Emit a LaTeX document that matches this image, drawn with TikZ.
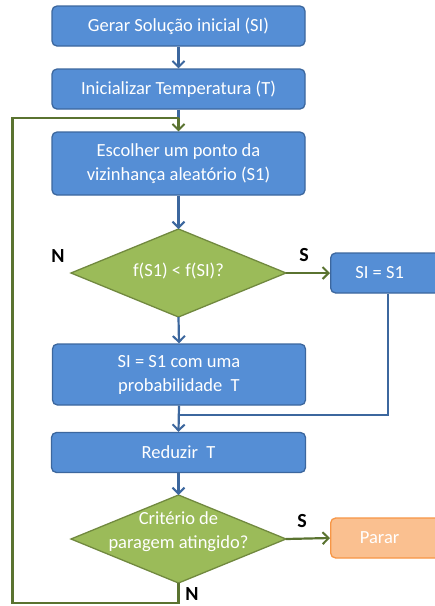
\documentclass[tikz,border=0pt]{standalone}
\usepackage{fontspec}
\setmainfont{Carlito}
\usetikzlibrary{arrows.meta}
\definecolor{bfill}{HTML}{558ED5}
\definecolor{bdraw}{HTML}{3C679E}
\definecolor{gfill}{HTML}{9BBB59}
\definecolor{gdraw}{HTML}{71893F}
\definecolor{garrow}{HTML}{5A7330}
\definecolor{ofill}{HTML}{FAC090}
\definecolor{odraw}{HTML}{F79646}
\tikzset{
  x=1pt,y=-1pt,
  txt/.style={text=white,font=\fontsize{18.5}{24}\selectfont,align=center},
  procbox/.style={draw=bdraw,fill=bfill,line width=1.3pt,rounded corners=5pt,txt,inner sep=0pt},
  decbox/.style={draw=gdraw,fill=gfill,line width=1.3pt},
  stopbox/.style={draw=odraw,fill=ofill,line width=1.3pt,rounded corners=5pt,txt,inner sep=0pt},
  barrow/.style={draw=bdraw,line width=2.2pt,-{Straight Barb[length=6pt,width=12pt,line width=2pt]}},
  bline/.style={draw=bdraw,line width=2.2pt},
  garr/.style={draw=garrow,line width=2.2pt,-{Straight Barb[length=6pt,width=12pt,line width=2pt]}},
  gline/.style={draw=garrow,line width=2.2pt},
  lbl/.style={font=\fontsize{20}{22}\selectfont\bfseries,text=black}
}
\begin{document}
\begin{tikzpicture}
\useasboundingbox[fill=white] (0,0) rectangle (435,606);
% boxes
\node[procbox,minimum width=253pt,minimum height=40pt] (b1) at (178.5,26) {Gerar Solução inicial (SI)};
\node[procbox,minimum width=253pt,minimum height=40pt] (b2) at (178.5,89) {Inicializar Temperatura (T)};
\node[procbox,minimum width=253pt,minimum height=63pt] (b3) at (178.5,163.5) {Escolher um ponto da\\vizinhança aleatório (S1)};
\path[decbox] (178.5,229) -- (286,273) -- (178.5,317) -- (71,273) -- cycle;
\node[txt] (d1) at (178.5,271) {f(S1) < f(SI)?};
\coordinate (d1t) at (178.5,229);
\coordinate (d1r) at (286,273);
\coordinate (d1b) at (178.5,317);
\node[procbox,minimum width=110pt,minimum height=40pt,anchor=west] (b6) at (330,273) {\hspace*{-6pt}SI = S1\hspace*{6pt}};
\node[procbox,minimum width=253pt,minimum height=61pt] (b4) at (179,374.5) {SI = S1 com uma\\probabilidade\ \ T};
\node[procbox,minimum width=254pt,minimum height=40pt] (b5) at (178.5,452.5) {Reduzir\ \ T};
\path[decbox] (178.5,495) -- (286,539) -- (178.5,583) -- (71,539) -- cycle;
\node[txt] (d2) at (178.5,532) {Critério de\\paragem atingido?};
\coordinate (d2t) at (178.5,495);
\coordinate (d2r) at (286,539);
\coordinate (d2b) at (178.5,583);
\node[stopbox,minimum width=110pt,minimum height=40pt,anchor=west] (b7) at (330,538) {\hspace*{-6pt}Parar\hspace*{6pt}};
% connectors
\draw[barrow] (b1.south) -- (b2.north);
\draw[bline] (b2.south) -- (178.5,118);
\draw[barrow] (b3.south) -- (d1t);
\draw[garr] (d1r) -- (b6.west);
\draw[barrow] (d1b) -- (b4.north);
\coordinate (m1) at (178.5,415);
\draw[bline] (b6.south -| 388,0) -- (388,415) -- (m1);
\draw[barrow] (b4.south) -- (b5.north);
\draw[barrow] (b5.south) -- (d2t);
\draw[garr] (d2r) -- (b7.west);
\coordinate (lp1) at (178.5,603);
\coordinate (lp2) at (12.5,603);
\coordinate (lp3) at (12.5,118);
\coordinate (lp4) at (178.5,118);
\draw[gline] (d2b) -- (lp1) -- (lp2) -- (lp3) -- (lp4);
\draw[garr] (lp4) -- (b3.north);
% labels
\node[lbl] (ln1) at (58,256) {N};
\node[lbl] (ls1) at (304,255) {S};
\node[lbl] (ls2) at (302,521) {S};
\node[lbl] (ln2) at (192,594) {N};
\end{tikzpicture}
\end{document}
